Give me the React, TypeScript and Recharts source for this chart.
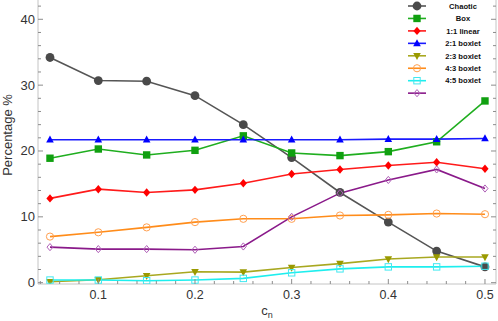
import { LineChart, Line, XAxis, YAxis, Legend } from "recharts";

// c_n values (x) and percentage series
const cn = [0.05, 0.1, 0.15, 0.2, 0.25, 0.3, 0.35, 0.4, 0.45, 0.5];
const chaotic = [34.2, 30.7, 30.6, 28.4, 24.0, 19.0, 13.7, 9.2, 4.8, 2.4];
const box = [18.9, 20.3, 19.4, 20.1, 22.3, 19.7, 19.3, 19.9, 21.4, 27.6];
const linear11 = [12.8, 14.2, 13.7, 14.1, 15.1, 16.5, 17.2, 17.8, 18.3, 17.3];
const boxlet21 = [21.7, 21.7, 21.7, 21.7, 21.7, 21.7, 21.7, 21.8, 21.8, 21.9];
const boxlet23 = [0.15, 0.45, 1.05, 1.65, 1.6, 2.3, 2.9, 3.6, 3.9, 3.9];
const boxlet43 = [7.0, 7.65, 8.4, 9.2, 9.7, 9.7, 10.2, 10.3, 10.5, 10.4];
const boxlet45 = [0.4, 0.4, 0.3, 0.4, 0.65, 1.5, 2.1, 2.4, 2.4, 2.5];
const unnamed = [5.4, 5.1, 5.1, 5.0, 5.5, 10.0, 13.6, 15.6, 17.2, 14.3];

const xTicks = [
  0.04, 0.06, 0.08, 0.1, 0.12, 0.14, 0.16, 0.18, 0.2, 0.22, 0.24, 0.26, 0.28,
  0.3, 0.32, 0.34, 0.36, 0.38, 0.4, 0.42, 0.44, 0.46, 0.48, 0.5,
];
const yTicks = [
  0, 2, 4, 6, 8, 10, 12, 14, 16, 18, 20, 22, 24, 26, 28, 30, 32, 34, 36, 38,
  40, 42,
];

type Shape =
  | "circle"
  | "square"
  | "diamond"
  | "triangle"
  | "triangleDown"
  | "openCircle"
  | "openSquare"
  | "openDiamond";

const series: {
  key: string;
  name: string;
  values: number[];
  color: string;
  marker: string;
  shape: Shape;
}[] = [
  { key: "chaotic", name: "Chaotic", values: chaotic, color: "#555555", marker: "#4a4a4a", shape: "circle" },
  { key: "box", name: "Box", values: box, color: "#1fae1f", marker: "#10a010", shape: "square" },
  { key: "linear11", name: "1:1 linear", values: linear11, color: "#ff1a1a", marker: "#ff0000", shape: "diamond" },
  { key: "boxlet21", name: "2:1 boxlet", values: boxlet21, color: "#1a1aff", marker: "#0000ff", shape: "triangle" },
  { key: "boxlet23", name: "2:3 boxlet", values: boxlet23, color: "#a8a820", marker: "#9a9a00", shape: "triangleDown" },
  { key: "boxlet43", name: "4:3 boxlet", values: boxlet43, color: "#ff8c1a", marker: "#ffa050", shape: "openCircle" },
  { key: "boxlet45", name: "4:5 boxlet", values: boxlet45, color: "#1eeeee", marker: "#40e8f0", shape: "openSquare" },
  { key: "unnamed", name: "", values: unnamed, color: "#8a1a8a", marker: "#b060b8", shape: "openDiamond" },
];

const data = cn.map((c, i) => {
  const row: Record<string, number> = { cn: c };
  series.forEach((s) => (row[s.key] = s.values[i]));
  return row;
});

const FONT = "'Liberation Sans', Arial, Helvetica, sans-serif";
const FRAME = "#c4c4c4";
const TICK = "#8c8c8c";

function Marker({ cx, cy, shape, color }: { cx: number; cy: number; shape: Shape; color: string }) {
  if (cx == null || cy == null) return null;
  switch (shape) {
    case "circle":
      return <circle cx={cx} cy={cy} r={4.4} fill={color} />;
    case "square":
      return <rect x={cx - 3.7} y={cy - 3.7} width={7.4} height={7.4} fill={color} />;
    case "diamond":
      return <polygon points={`${cx},${cy - 4.2} ${cx + 3.6},${cy} ${cx},${cy + 4.2} ${cx - 3.6},${cy}`} fill={color} />;
    case "triangle":
      return <polygon points={`${cx},${cy - 4.2} ${cx + 3.8},${cy + 2.8} ${cx - 3.8},${cy + 2.8}`} fill={color} />;
    case "triangleDown":
      return <polygon points={`${cx},${cy + 4.2} ${cx + 3.8},${cy - 2.8} ${cx - 3.8},${cy - 2.8}`} fill={color} />;
    case "openCircle":
      return <circle cx={cx} cy={cy} r={3.6} fill="none" stroke={color} strokeWidth={1} />;
    case "openSquare":
      return <rect x={cx - 3.2} y={cy - 3.2} width={6.4} height={6.4} fill="none" stroke={color} strokeWidth={1} />;
    case "openDiamond":
      return (
        <polygon
          points={`${cx},${cy - 3.6} ${cx + 3},${cy} ${cx},${cy + 3.6} ${cx - 3},${cy}`}
          fill="none"
          stroke={color}
          strokeWidth={1}
        />
      );
  }
  return null;
}

const isMajorX = (v: number) => Math.abs(v * 10 - Math.round(v * 10)) < 1e-6;
const isMajorY = (v: number) => v % 10 === 0;

function BottomTick({ x, y, payload }: any) {
  const major = isMajorX(payload.value);
  return (
    <g>
      <line x1={x} x2={x} y1={y} y2={y - (major ? 5 : 3)} stroke={TICK} />
      {major && (
        <text x={x} y={y + 15} textAnchor="middle" fontSize={12.5} fontFamily={FONT} fill="#333">
          {payload.value}
        </text>
      )}
    </g>
  );
}

function TopTick({ x, y, payload }: any) {
  const major = isMajorX(payload.value);
  return <line x1={x} x2={x} y1={y} y2={y + (major ? 5 : 3)} stroke={TICK} />;
}

function LeftTick({ x, y, payload }: any) {
  const major = isMajorY(payload.value);
  return (
    <g>
      <line x1={x} x2={x + (major ? 5 : 3)} y1={y} y2={y} stroke={TICK} />
      {major && (
        <text x={x - 3} y={y + 4.5} textAnchor="end" fontSize={13} fontFamily={FONT} fill="#333">
          {payload.value}
        </text>
      )}
    </g>
  );
}

function RightTick({ x, y, payload }: any) {
  const major = isMajorY(payload.value);
  return <line x1={x} x2={x - (major ? 5 : 3)} y1={y} y2={y} stroke={TICK} />;
}

function LegendBox() {
  return (
    <svg width={98} height={100} style={{ display: "block" }}>
      {series.map((s, i) => {
        const cy = 6 + i * 12.45;
        return (
          <g key={s.key}>
            <line x1={3} x2={21} y1={cy} y2={cy} stroke={s.color} strokeWidth={1.6} />
            <Marker cx={12} cy={cy} shape={s.shape} color={s.marker} />
            {s.name && (
              <text
                x={58}
                y={cy + 2.7}
                textAnchor="middle"
                fontSize={7.6}
                fontWeight="bold"
                fontFamily={FONT}
                fill="#111"
              >
                {s.name}
              </text>
            )}
          </g>
        );
      })}
    </svg>
  );
}

export default function App() {
  return (
    <div style={{ position: "absolute", left: 0, top: 0, background: "#fff" }}>
      <LineChart width={498} height={321} data={data} margin={{ top: 0, right: 0, bottom: 0, left: 0 }}>
        <XAxis
          dataKey="cn"
          type="number"
          domain={[0.0376, 0.5114]}
          allowDataOverflow
          ticks={xTicks}
          interval={0}
          height={37}
          stroke={FRAME}
          tickLine={false}
          tickSize={0}
          tickMargin={0}
          tick={<BottomTick />}
          label={{
            content: ({ viewBox }: any) => (
              <text
                x={viewBox.x + viewBox.width / 2}
                y={viewBox.y + 31}
                textAnchor="middle"
                fontSize={13}
                fontFamily={FONT}
                fill="#333"
              >
                c<tspan fontSize={9} dy={3}>n</tspan>
              </text>
            ),
          }}
        />
        <XAxis
          xAxisId="top"
          orientation="top"
          dataKey="cn"
          type="number"
          domain={[0.0376, 0.5114]}
          allowDataOverflow
          ticks={xTicks}
          interval={0}
          height={0}
          stroke={FRAME}
          tickLine={false}
          tickSize={0}
          tickMargin={0}
          tick={<TopTick />}
        />
        <YAxis
          type="number"
          domain={[-0.2, 42.93]}
          allowDataOverflow
          ticks={yTicks}
          interval={0}
          width={38}
          stroke={FRAME}
          tickLine={false}
          tickSize={0}
          tickMargin={0}
          tick={<LeftTick />}
          label={{
            content: ({ viewBox }: any) => (
              <text
                x={12}
                y={viewBox.y + 135}
                transform={`rotate(-90 12 ${viewBox.y + 135})`}
                textAnchor="middle"
                fontSize={13}
                fontFamily={FONT}
                fill="#333"
              >
                Percentage %
              </text>
            ),
          }}
        />
        <YAxis
          yAxisId="right"
          orientation="right"
          type="number"
          domain={[-0.2, 42.93]}
          allowDataOverflow
          ticks={yTicks}
          interval={0}
          width={2}
          stroke={FRAME}
          tickLine={false}
          tickSize={0}
          tickMargin={0}
          tick={<RightTick />}
        />
        <Legend
          layout="vertical"
          align="center"
          verticalAlign="middle"
          wrapperStyle={{ left: 405, top: 0, width: 98 }}
          content={() => <LegendBox />}
        />
        {series.map((s) => (
          <Line
            key={s.key}
            dataKey={s.key}
            name={s.name}
            stroke={s.color}
            strokeWidth={1.6}
            isAnimationActive={false}
            dot={(p: any) => <Marker key={`${s.key}-${p.index}`} cx={p.cx} cy={p.cy} shape={s.shape} color={s.marker} />}
            activeDot={false}
          />
        ))}
      </LineChart>
    </div>
  );
}
